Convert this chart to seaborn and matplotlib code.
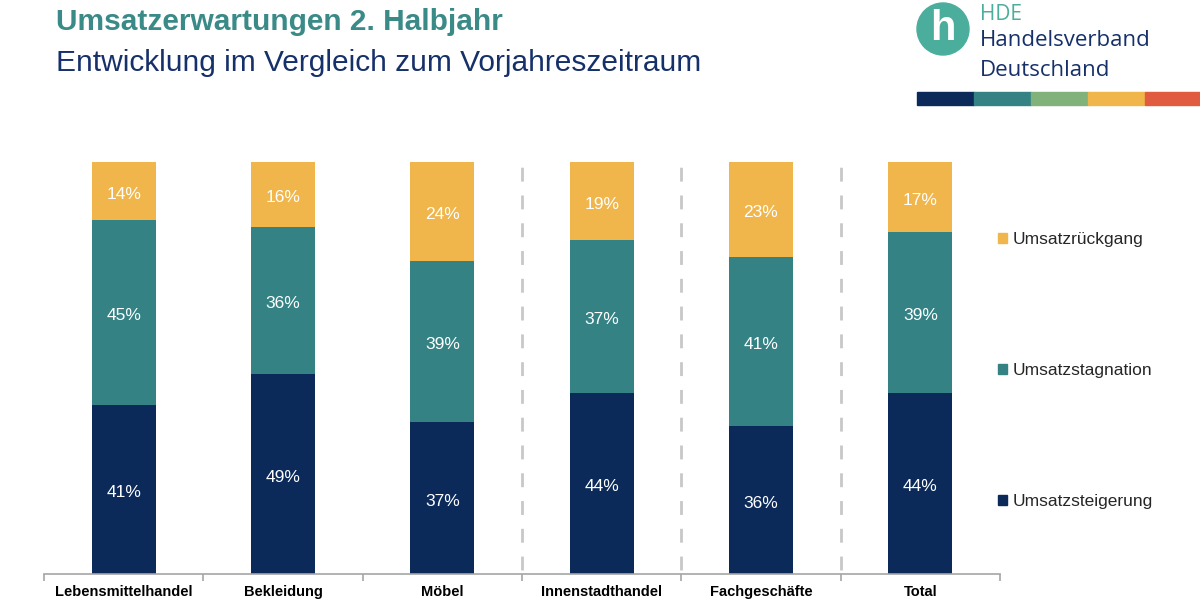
import matplotlib
matplotlib.use("Agg")
import matplotlib.pyplot as plt
import matplotlib.patches as mpatches
import seaborn as sns
import numpy as np
import pandas as pd

# values (percent)
kategorien = ["Lebensmittelhandel", "Bekleidung", "Möbel", "Innenstadthandel", "Fachgeschäfte", "Total"]
steigerung = [41, 49, 37, 44, 36, 44]
stagnation = [45, 36, 39, 37, 41, 39]
rueckgang = [14, 16, 24, 19, 23, 17]

c_navy = "#0b2a5a"
c_teal = "#348284"
c_yellow = "#f0b64b"
c_green = "#80b27a"
c_red = "#e05b3f"

sns.set_theme(style="white")
plt.rcParams['font.family'] = ['Liberation Sans', 'DejaVu Sans']

df = pd.DataFrame({"kat": kategorien, "s": steigerung, "m": stagnation, "r": rueckgang})
summe = df["s"] + df["m"] + df["r"]
# stacked bars are scaled to 100 %
df["c1"] = df["s"] / summe * 100
df["c2"] = (df["s"] + df["m"]) / summe * 100
df["c3"] = 100.0

fig = plt.figure(figsize=(12, 6), dpi=100)
ax = fig.add_axes([44 / 1200, 26 / 600, 956 / 1200, 412 / 600])

sns.barplot(data=df, x="kat", y="c3", color=c_yellow, width=0.4, saturation=1, linewidth=0, ax=ax)
sns.barplot(data=df, x="kat", y="c2", color=c_teal, width=0.4, saturation=1, linewidth=0, ax=ax)
sns.barplot(data=df, x="kat", y="c1", color=c_navy, width=0.4, saturation=1, linewidth=0, ax=ax)

for i in range(len(df)):
    lo = [0, df["c1"][i], df["c2"][i]]
    hi = [df["c1"][i], df["c2"][i], 100]
    vals = [df["s"][i], df["m"][i], df["r"][i]]
    for a, b, v in zip(lo, hi, vals):
        ax.text(i, (a + b) / 2 - 0.8, f"{v}%", ha="center", va="center", color="white", fontsize=12.5)

ax.set_xlim(-0.5, 5.5)
ax.set_ylim(0, 100)
ax.set_xlabel("")
ax.set_ylabel("")
ax.set_yticks([])
for sp in ["top", "right", "left"]:
    ax.spines[sp].set_visible(False)
ax.spines["bottom"].set_color("#a6a6a6")
ax.spines["bottom"].set_linewidth(1.2)
ax.set_xticks(np.arange(-0.5, 6.0, 1.0), minor=True)
ax.tick_params(axis="x", which="minor", bottom=True, length=5, color="#a6a6a6", width=1.2)
ax.tick_params(axis="x", which="major", bottom=False, length=0, pad=16)
for lab in ax.get_xticklabels():
    lab.set_fontweight("bold")
    lab.set_fontsize(10.5)
    lab.set_color("black")
    lab.set_verticalalignment("baseline")

for xv in [2.5, 3.5, 4.5]:
    ax.axvline(xv, ymin=0.01, ymax=1.0, color="#c8c8c8", linewidth=2, dashes=(5, 5), clip_on=False)

# legend
handles = [mpatches.Patch(color=c_yellow, label="Umsatzrückgang"),
           mpatches.Patch(color=c_teal, label="Umsatzstagnation"),
           mpatches.Patch(color=c_navy, label="Umsatzsteigerung")]
fig.legend(handles=handles, loc="upper left", bbox_to_anchor=(998 / 1200, 1 - 232 / 600),
           frameon=False, fontsize=12.5, labelspacing=6.68, handlelength=0.5, handleheight=0.5,
           handletextpad=0.35, borderaxespad=0, borderpad=0)

# titles
fig.text(56 / 1200, 1 - 22 / 600, "Umsatzerwartungen 2. Halbjahr", color="#3a8a88",
         fontsize=21.5, fontweight="bold", va="center", ha="left")
fig.text(56 / 1200, 1 - 63 / 600, "Entwicklung im Vergleich zum Vorjahreszeitraum", color="#16306a",
         fontsize=21.5, va="center", ha="left")

# logo
fig.patches.append(mpatches.Ellipse((943 / 1200, 1 - 29 / 600), 52 / 1200, 52 / 600,
                                    transform=fig.transFigure, color="#4bae9c"))
fig.text(943 / 1200, 1 - 29 / 600, "h", color="white", fontsize=30, fontweight="bold",
         ha="center", va="center")
fig.text(980 / 1200, 1 - 14 / 600, "HDE", color="#4bae9c", fontsize=15, va="center", ha="left",
         family=["Open Sans", "DejaVu Sans"])
fig.text(980 / 1200, 1 - 41 / 600, "Handelsverband", color="#16306a", fontsize=16, va="center", ha="left",
         family=["Open Sans", "DejaVu Sans"])
fig.text(980 / 1200, 1 - 71 / 600, "Deutschland", color="#16306a", fontsize=16, va="center", ha="left",
         family=["Open Sans", "DejaVu Sans"])
strip = [c_navy, c_teal, c_green, c_yellow, c_red]
x0 = 917
for k, col in enumerate(strip):
    fig.patches.append(mpatches.Rectangle(((x0 + k * 57) / 1200, 1 - 105 / 600), 57 / 1200, 13 / 600,
                                          transform=fig.transFigure, color=col))

fig.savefig("out.png", dpi=100)
